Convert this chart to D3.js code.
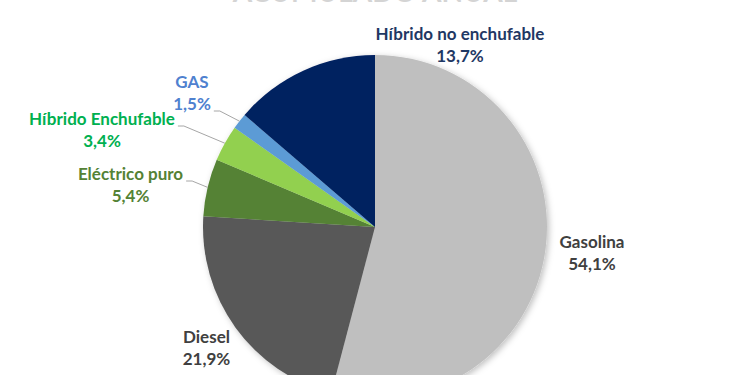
<!DOCTYPE html>
<html>
<head>
<meta charset="utf-8">
<script src="https://cdn.jsdelivr.net/npm/d3@7"></script>
<style>
  html, body { margin: 0; padding: 0; background: #ffffff; }
  svg { display: block; }
  text { font-family: Lato, "Open Sans", sans-serif; font-weight: 700; }
</style>
</head>
<body>
<svg id="chart" width="750" height="375"></svg>
<script>
// ---- data ----
const categories = ["Gasolina", "Diesel", "Eléctrico puro", "Híbrido Enchufable", "GAS", "Híbrido no enchufable"];
const shares = [54.1, 21.9, 5.4, 3.4, 1.5, 13.7];
const valueLabels = ["54,1%", "21,9%", "5,4%", "3,4%", "1,5%", "13,7%"];
const titleText = "ACUMULADO ANUAL";

// ---- styles / layout ----
const sliceColors = ["#bfbfbf", "#595959", "#548235", "#92d050", "#5b9bd5", "#002060"];
const labelColors = ["#404040", "#404040", "#548235", "#00b050", "#4f81cf", "#1f3864"];
const width = 750, height = 375;
const cx = 375, cy = 227, radius = 172;
// label anchor (center x, first-line baseline) relative to pie center
const labelOffsets = [[217, 21], [-168.5, 116], [-244.5, -47], [-273, -102], [-183, -139], [85, -187]];
// leader: which line it attaches to (0 first, 1 second), null = none
const leaderLine = [null, null, 0, 0, 1, null];
const lineGap = 22;
const fontSize = 17;

const svg = d3.select("#chart");

// drop shadow
const defs = svg.append("defs");
const f = defs.append("filter").attr("id", "shadow").attr("x", "-20%").attr("y", "-20%").attr("width", "140%").attr("height", "140%");
f.append("feDropShadow").attr("dx", 2).attr("dy", 2).attr("stdDeviation", 3).attr("flood-color", "#000").attr("flood-opacity", 0.25);

// title (cropped at top, as in the reference)
svg.append("text")
  .attr("x", cx).attr("y", 2)
  .attr("text-anchor", "middle")
  .attr("font-size", 28)
  .attr("fill", "#d4d4d4")
  .text(titleText);

const data = categories.map((c, i) => ({ name: c, value: shares[i], label: valueLabels[i], i }));

const pie = d3.pie().value(d => d.value).sort(null);
const arcs = pie(data);
const arc = d3.arc().innerRadius(0).outerRadius(radius);

const g = svg.append("g").attr("transform", `translate(${cx},${cy})`);

g.append("g").attr("filter", "url(#shadow)")
  .selectAll("path").data(arcs).join("path")
  .attr("d", arc)
  .attr("fill", d => sliceColors[d.data.i]);

// labels
const labelG = g.append("g");
arcs.forEach(a => {
  const i = a.data.i;
  const [lx, ly] = labelOffsets[i];
  const t = labelG.append("text")
    .attr("text-anchor", "middle")
    .attr("font-size", fontSize)
    .attr("fill", labelColors[i]);
  t.append("tspan").attr("x", lx).attr("y", ly).text(a.data.name);
  t.append("tspan").attr("x", lx).attr("y", ly + lineGap).text(a.data.label);

  if (leaderLine[i] !== null) {
    const spans = t.selectAll("tspan").nodes();
    const sp = spans[leaderLine[i]];
    const w = sp.getComputedTextLength();
    const x0 = lx + w / 2 + 3;
    const y0 = ly + leaderLine[i] * lineGap + 1;
    const mid = (a.startAngle + a.endAngle) / 2;
    const px = Math.sin(mid) * radius;
    const py = -Math.cos(mid) * radius;
    labelG.append("polyline")
      .attr("points", [[x0, y0], [x0 + 6, y0], [px, py]].map(p => p.join(",")).join(" "))
      .attr("fill", "none")
      .attr("stroke", "#a6a6a6")
      .attr("stroke-width", 1);
  }
});
</script>
</body>
</html>
